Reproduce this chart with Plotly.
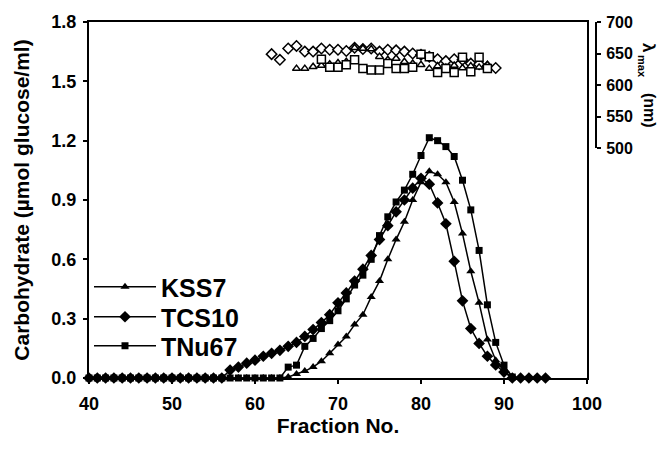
import plotly.graph_objects as go

# ---- data ----
frac_a = list(range(40, 92))          # KSS7, TNu67
frac_b = list(range(40, 96))          # TCS10

kss7 = [0]*24 + [0.005, 0.02, 0.035, 0.055, 0.085, 0.125, 0.17, 0.21, 0.27, 0.32,
                 0.41, 0.49, 0.60, 0.70, 0.79, 0.90, 0.99, 1.045, 1.03, 0.99,
                 0.89, 0.73, 0.54, 0.38, 0.195, 0.09, 0.035, 0.0]
tnu67 = [0]*24 + [0.055, 0.065, 0.16, 0.20, 0.25, 0.29, 0.34, 0.40, 0.47, 0.52,
                  0.60, 0.72, 0.815, 0.89, 0.95, 1.03, 1.125, 1.215, 1.20, 1.17,
                  1.12, 1.0, 0.85, 0.645, 0.37, 0.18, 0.065, 0.005]
tcs10 = [0]*17 + [0.04, 0.055, 0.075, 0.09, 0.11, 0.125, 0.14, 0.16, 0.18, 0.21,
                  0.245, 0.28, 0.32, 0.38, 0.43, 0.49, 0.55, 0.62, 0.70, 0.77,
                  0.84, 0.90, 0.96, 1.01, 0.98, 0.885, 0.78, 0.59, 0.39, 0.25,
                  0.175, 0.11, 0.066, 0.03, 0.0, 0.0, 0.0, 0.0, 0.0]

lam_tcs10_x = list(range(62, 90))
lam_tcs10 = [649, 640, 658, 662, 653, 653, 658, 656, 656, 654, 659, 657, 658, 653,
             656, 655, 653, 650, 648, 645, 641, 638, 641, 640, 634, 633, 629, 627]
lam_kss7_x = list(range(65, 89))
lam_kss7 = [626, 626, 629, 631, 633, 635, 637, 659, 658, 657, 645, 640, 642, 637,
            634, 632, 626, 630, 628, 631, 627, 630, 628, 632]
lam_tnu67_x = list(range(68, 89))
lam_tnu67 = [641, 628, 628, 632, 640, 626, 624, 624, 634, 626, 626, 628, 649, 645,
             620, 626, 620, 644, 621, 644, 626]

x_ticks = [40, 50, 60, 70, 80, 90, 100]
y_ticks = [0.0, 0.3, 0.6, 0.9, 1.2, 1.5, 1.8]
y2_ticks = [500, 550, 600, 650, 700]

FONT = "Liberation Sans, Arial, sans-serif"
BLACK = "black"

fig = go.Figure()

def filled(x, y, name, symbol, size, leg):
    fig.add_trace(go.Scatter(
        x=x, y=y, name=name, mode="lines+markers",
        line=dict(color=BLACK, width=1.5),
        marker=dict(symbol=symbol, size=size, color=BLACK),
        cliponaxis=False, xaxis="x", yaxis="y", legend=leg))

filled(frac_a, kss7, "KSS7", "triangle-up", 8, "legend")
filled(frac_b, tcs10, "TCS10", "diamond", 9, "legend2")
filled(frac_a, tnu67, "TNu67", "square", 7, "legend3")

def openm(x, y, symbol, size):
    fig.add_trace(go.Scatter(
        x=x, y=y, mode="markers", showlegend=False,
        marker=dict(symbol=symbol, size=size, color="white",
                    line=dict(color=BLACK, width=1.5)),
        cliponaxis=False, xaxis="x", yaxis="y2"))

openm(lam_tcs10_x, lam_tcs10, "diamond", 8)
openm(lam_kss7_x, lam_kss7, "triangle-up", 7)
openm(lam_tnu67_x, lam_tnu67, "square", 8)

# page has an 8px body margin; figure sized to fit the 666x449 window
W, H = 658, 441
L, T, B, R = 81, 14, 71, 70
PW = W - L - R          # paper width
PH = H - T - B          # paper height
x_dom_end = (579 - L) / PW


def px(page_x):
    return (page_x - 8 - L) / PW


def py(page_y):
    return (H - (page_y - 8) - B) / PH


leg_common = dict(xanchor="left", yanchor="middle",
                  font=dict(size=25, weight="bold", family=FONT),
                  bgcolor="rgba(0,0,0,0)", itemwidth=62, borderwidth=0)

fig.update_layout(
    width=W, height=H,
    margin=dict(l=L, r=R, t=T, b=B, autoexpand=False),
    paper_bgcolor="white", plot_bgcolor="rgba(0,0,0,0)",
    font=dict(family=FONT, color=BLACK),
    xaxis=dict(
        domain=[0, x_dom_end], range=[40, 100], tickvals=x_ticks,
        showline=True, linecolor=BLACK, linewidth=2, mirror=True,
        ticks="outside", ticklen=4, tickwidth=1.5, tickcolor=BLACK,
        showgrid=False, zeroline=False, automargin=False,
        tickfont=dict(size=18, weight="bold", family=FONT),
        ticklabelstandoff=4,
        title=dict(text="Fraction No.", font=dict(size=21, weight="bold", family=FONT),
                   standoff=6),
        anchor="y",
    ),
    yaxis=dict(
        domain=[0, 1], range=[0, 1.8], tickvals=y_ticks, tickformat=".1f",
        showline=True, linecolor=BLACK, linewidth=2, mirror=True,
        ticks="outside", ticklen=4, tickwidth=1.5, tickcolor=BLACK,
        showgrid=False, zeroline=False, automargin=False,
        tickfont=dict(size=18, weight="bold", family=FONT),
        ticklabelstandoff=3,
        title=dict(text="Carbohydrate (µmol glucose/ml)",
                   font=dict(size=21, weight="bold", family=FONT), standoff=16),
        anchor="x",
    ),
    yaxis2=dict(
        domain=[1 - 126 / 356, 1], range=[500, 700], tickvals=y2_ticks,
        anchor="free", position=1.0, side="right",
        showline=True, linecolor=BLACK, linewidth=2,
        ticks="outside", ticklen=4, tickwidth=1.5, tickcolor=BLACK,
        showgrid=False, zeroline=False, automargin=False,
        tickfont=dict(size=16, weight="bold", family=FONT),
        ticklabelstandoff=2,
    ),
    legend=dict(x=0.0, y=py(287), **leg_common),
    legend2=dict(x=0.0, y=py(317), **leg_common),
    legend3=dict(x=0.0, y=py(346), **leg_common),
    annotations=[
        dict(text="λ", textangle=90, showarrow=False, xref="paper", yref="paper",
             x=px(648), y=py(48), xanchor="center", yanchor="middle",
             font=dict(size=17, weight="bold", family=FONT)),
        dict(text="max", textangle=90, showarrow=False, xref="paper", yref="paper",
             x=px(642), y=py(66), xanchor="center", yanchor="middle",
             font=dict(size=11, weight="bold", family=FONT)),
        dict(text="(nm)", textangle=90, showarrow=False, xref="paper", yref="paper",
             x=px(650), y=py(110), xanchor="center", yanchor="middle",
             font=dict(size=16, weight="bold", family=FONT)),
    ],
)

fig.write_html("out.html")
